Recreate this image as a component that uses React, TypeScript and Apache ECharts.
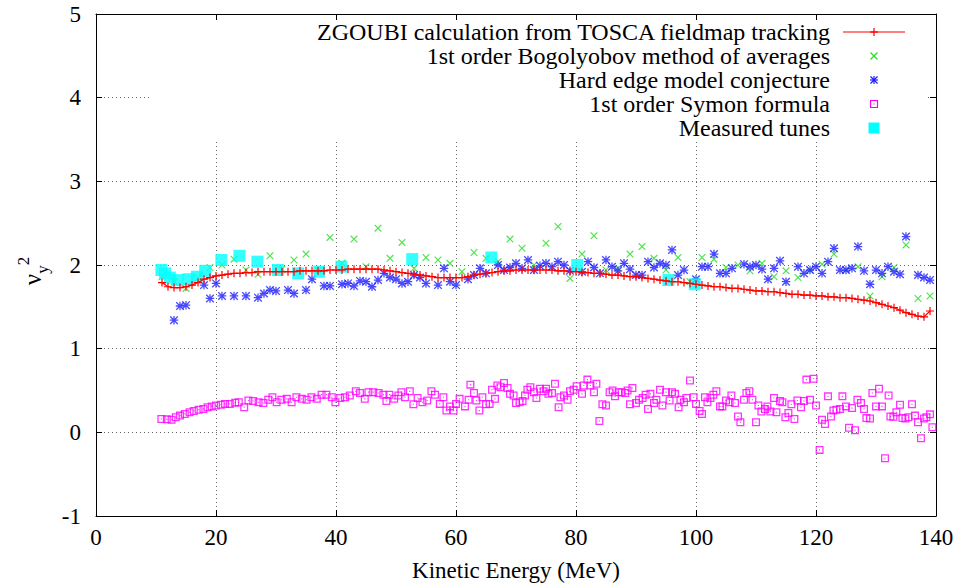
import React, { useEffect, useRef } from "react";
import * as echarts from "echarts";

const FONT = "Liberation Serif";

const xTicks = [0, 20, 40, 60, 80, 100, 120, 140];
const yTicks = [-1, 0, 1, 2, 3, 4, 5];

const legendNames = [
  "ZGOUBI calculation from TOSCA fieldmap tracking",
  "1st order Bogolyobov method of averages",
  "Hard edge model conjecture",
  "1st order Symon formula",
  "Measured tunes",
];

const zgoubiE = [
  11, 12, 13, 14, 15, 16, 17, 18, 19, 20, 21, 22, 23, 24, 25, 26, 27, 28, 29, 30,
  31, 32, 33, 34, 35, 36, 37, 38, 39, 40, 41, 42, 43, 44, 45, 46, 47, 48, 49, 50,
  51, 52, 53, 54, 55, 56, 57, 58, 59, 60, 61, 62, 63, 64, 65, 66, 67, 68, 69, 70,
  71, 72, 73, 74, 75, 76, 77, 78, 79, 80, 81, 82, 83, 84, 85, 86, 87, 88, 89, 90,
  91, 92, 93, 94, 95, 96, 97, 98, 99, 100, 101, 102, 103, 104, 105, 106, 107, 108, 109, 110,
  111, 112, 113, 114, 115, 116, 117, 118, 119, 120, 121, 122, 123, 124, 125, 126, 127, 128, 129, 130,
  131, 132, 133, 134, 135, 136, 137, 138, 139,
];
const zgoubiV = [
  1.79, 1.74, 1.73, 1.73, 1.74, 1.76, 1.79, 1.83, 1.85, 1.87, 1.88, 1.89, 1.90, 1.90, 1.91, 1.91, 1.92, 1.92, 1.92, 1.92,
  1.92, 1.92, 1.92, 1.93, 1.93, 1.93, 1.93, 1.93, 1.94, 1.94, 1.94, 1.95, 1.95, 1.95, 1.95, 1.95, 1.95, 1.94, 1.93, 1.92,
  1.91, 1.90, 1.89, 1.88, 1.87, 1.86, 1.85, 1.85, 1.85, 1.85, 1.85, 1.86, 1.88, 1.89, 1.90, 1.91, 1.92, 1.93, 1.93, 1.94,
  1.94, 1.94, 1.94, 1.94, 1.94, 1.94, 1.93, 1.93, 1.92, 1.92, 1.91, 1.91, 1.90, 1.90, 1.89, 1.88, 1.88, 1.87, 1.86, 1.86,
  1.85, 1.84, 1.83, 1.82, 1.81, 1.80, 1.80, 1.79, 1.78, 1.77, 1.76, 1.75, 1.74, 1.74, 1.73, 1.72, 1.72, 1.71, 1.70, 1.69,
  1.69, 1.68, 1.68, 1.67, 1.66, 1.65, 1.65, 1.64, 1.64, 1.63, 1.63, 1.62, 1.62, 1.61, 1.61, 1.60, 1.59, 1.58, 1.57, 1.55,
  1.53, 1.51, 1.49, 1.46, 1.43, 1.41, 1.39, 1.38, 1.45,
];

const bogoE = [
  11, 13, 15, 17, 19, 21, 23, 25, 27, 29, 31, 33, 35, 37, 39, 41, 43, 45, 47, 49,
  51, 53, 55, 57, 59, 61, 63, 65, 67, 69, 71, 73, 75, 77, 79, 81, 83, 85, 87, 89,
  91, 93, 95, 97, 99, 101, 103, 105, 107, 109, 111, 113, 115, 117, 119, 121, 123, 125, 127, 129,
  131, 133, 135, 137, 139,
];
const bogoV = [
  1.86, 1.80, 1.72, 1.85, 1.97, 2.00, 2.07, 1.94, 1.89, 2.11, 1.95, 2.06, 2.13, 1.93, 2.33, 2.02, 2.31, 1.98, 2.44, 2.08,
  2.27, 1.96, 2.09, 2.06, 2.02, 1.92, 2.15, 2.08, 2.04, 2.31, 2.20, 2.00, 2.26, 2.46, 1.84, 2.13, 2.35, 1.94, 1.96, 2.13,
  2.22, 2.08, 1.94, 2.09, 1.80, 2.09, 2.07, 1.97, 2.00, 1.93, 2.02, 1.86, 1.93, 1.85, 1.94, 2.01, 2.13, 1.94, 1.98, 1.63,
  1.86, 1.97, 2.24, 1.60, 1.63,
];

const hardE = [
  13, 14, 15, 18, 19, 20, 21, 23, 25, 27, 28, 29, 30, 32, 33, 35, 36, 38, 39, 41,
  42, 43, 44, 45, 46, 47, 48, 49, 50, 51, 52, 53, 54, 55, 57, 58, 59, 60, 62, 63,
  64, 65, 67, 68, 69, 70, 71, 72, 73, 74, 75, 76, 77, 78, 79, 81, 82, 83, 84, 85,
  86, 87, 88, 89, 90, 91, 92, 93, 94, 95, 96, 97, 98, 100, 101, 102, 103, 104, 105, 106,
  108, 109, 110, 111, 112, 113, 114, 115, 117, 118, 119, 120, 121, 122, 123, 124, 125, 126, 127, 128,
  129, 130, 131, 132, 133, 134, 135, 137, 138, 139,
];
const hardV = [
  1.34, 1.51, 1.52, 1.76, 1.60, 1.78, 1.63, 1.63, 1.63, 1.61, 1.66, 1.70, 1.69, 1.70, 1.66, 1.70, 1.83, 1.75, 1.75, 1.77,
  1.78, 1.75, 1.81, 1.80, 1.74, 1.82, 1.90, 1.85, 1.83, 1.78, 1.80, 1.88, 1.85, 1.78, 1.76, 1.96, 1.80, 1.76, 1.83, 1.88,
  1.96, 1.90, 2.00, 1.94, 1.97, 2.02, 1.96, 2.06, 1.94, 1.99, 2.02, 1.98, 2.04, 2.00, 1.93, 1.92, 2.04, 1.97, 1.90, 2.06,
  1.98, 1.93, 2.02, 1.95, 1.88, 1.88, 2.04, 1.97, 2.02, 2.00, 2.18, 1.88, 1.94, 1.83, 1.98, 1.98, 2.13, 1.90, 1.90, 1.96,
  2.01, 1.98, 2.00, 1.95, 1.83, 1.96, 2.05, 1.80, 1.98, 1.90, 1.94, 1.98, 1.90, 2.04, 2.20, 1.94, 1.94, 1.96, 2.22, 1.93,
  1.77, 1.94, 1.90, 1.98, 1.92, 1.89, 2.34, 1.88, 1.85, 1.82,
];

const symonE = [
  10.9, 11.8, 12.6, 13.3, 14.0, 14.8, 15.6, 16.3, 17.1, 17.9, 18.6, 19.3, 20.0, 20.8, 21.5, 22.3, 23.2, 23.8, 24.7, 25.4,
  26.2, 27.1, 27.9, 28.7, 29.4, 30.1, 30.9, 31.8, 32.6, 33.4, 34.3, 35.1, 35.9, 36.8, 37.6, 38.4, 39.3, 39.9, 40.7, 41.5,
  42.3, 43.3, 44.0, 44.8, 45.4, 46.2, 47.1, 47.9, 48.4, 48.9, 49.7, 50.4, 50.9, 51.5, 52.3, 52.9, 53.6, 54.4, 55.2, 55.9,
  56.5, 57.3, 57.9, 58.4, 59.0, 59.6, 60.0, 60.6, 61.5, 62.1, 62.4, 63.0, 63.4, 63.9, 64.4, 65.0, 65.6, 66.0, 66.5, 66.9,
  67.4, 68.0, 68.6, 69.0, 69.6, 70.0, 70.6, 71.1, 71.5, 71.9, 72.4, 73.0, 73.4, 74.0, 74.6, 75.0, 75.4, 76.0, 76.5, 77.1,
  77.4, 78.0, 78.6, 79.0, 79.6, 80.1, 81.0, 81.3, 81.9, 82.4, 83.0, 83.4, 83.9, 84.4, 85.0, 85.6, 86.1, 86.5, 87.1, 87.6,
  88.2, 88.6, 89.0, 89.4, 90.0, 90.5, 91.1, 91.6, 92.0, 92.4, 93.0, 93.4, 94.0, 94.4, 95.0, 95.6, 96.0, 96.5, 97.1, 97.4,
  98.0, 98.4, 99.0, 99.6, 100.0, 100.6, 101.0, 101.5, 101.9, 102.4, 102.9, 103.4, 104.0, 104.4, 105.0, 105.6, 105.9, 106.5, 107.0, 107.4,
  108.0, 108.4, 108.9, 109.4, 110.0, 110.4, 110.9, 111.5, 111.9, 112.4, 113.0, 113.4, 114.0, 114.4, 114.9, 115.4, 115.9, 116.4, 116.9, 117.5,
  118.0, 118.4, 119.0, 119.6, 120.0, 120.6, 121.0, 121.5, 122.0, 122.5, 122.9, 123.4, 124.0, 124.4, 125.0, 125.5, 126.0, 126.5, 126.9, 127.5,
  128.0, 128.4, 129.0, 129.4, 130.0, 130.5, 131.0, 131.5, 132.1, 132.4, 132.9, 133.4, 134.0, 134.4, 134.9, 135.4, 136.0, 136.5, 137.0, 137.5,
  138.0, 138.4, 139.0, 139.4,
];
const symonV = [
  0.16, 0.155, 0.15, 0.18, 0.20, 0.22, 0.24, 0.255, 0.27, 0.28, 0.30, 0.31, 0.32, 0.33, 0.34, 0.34, 0.355, 0.36, 0.30, 0.38,
  0.375, 0.36, 0.35, 0.39, 0.42, 0.36, 0.39, 0.40, 0.36, 0.42, 0.40, 0.39, 0.42, 0.40, 0.45, 0.45, 0.42, 0.36, 0.41, 0.42,
  0.44, 0.49, 0.47, 0.40, 0.48, 0.48, 0.47, 0.45, 0.375, 0.45, 0.40, 0.44, 0.48, 0.42, 0.49, 0.335, 0.41, 0.36, 0.38, 0.49,
  0.45, 0.34, 0.42, 0.26, 0.31, 0.26, 0.34, 0.40, 0.31, 0.39, 0.57, 0.47, 0.38, 0.26, 0.42, 0.335, 0.34, 0.51, 0.40, 0.56,
  0.54, 0.59, 0.53, 0.46, 0.44, 0.35, 0.36, 0.375, 0.44, 0.51, 0.54, 0.48, 0.41, 0.52, 0.49, 0.52, 0.46, 0.47, 0.58, 0.30,
  0.42, 0.44, 0.39, 0.49, 0.51, 0.55, 0.46, 0.56, 0.63, 0.56, 0.48, 0.58, 0.135, 0.335, 0.32, 0.48, 0.50, 0.43, 0.48, 0.48,
  0.47, 0.50, 0.335, 0.53, 0.35, 0.39, 0.41, 0.45, 0.28, 0.46, 0.35, 0.39, 0.51, 0.32, 0.48, 0.38, 0.48, 0.46, 0.30, 0.39,
  0.36, 0.41, 0.62, 0.42, 0.34, 0.255, 0.22, 0.42, 0.36, 0.41, 0.45, 0.49, 0.31, 0.31, 0.38, 0.36, 0.44, 0.35, 0.19, 0.12,
  0.39, 0.47, 0.49, 0.39, 0.12, 0.32, 0.25, 0.28, 0.31, 0.25, 0.41, 0.24, 0.375, 0.36, 0.18, 0.23, 0.335, 0.16, 0.38, 0.30,
  0.375, 0.63, 0.39, 0.64, 0.32, -0.21, 0.15, 0.10, 0.43, 0.19, 0.26, 0.27, 0.28, 0.43, 0.31, 0.055, 0.29, 0.025, 0.39, 0.35,
  0.28, 0.17, 0.165, 0.47, 0.31, 0.52, 0.31, -0.31, 0.44, 0.19, 0.185, 0.24, 0.33, 0.17, 0.165, 0.18, 0.335, 0.20, 0.12, -0.07,
  0.165, 0.18, 0.215, 0.06,
];

const measuredE = [10.9, 11.5, 12.3, 13.6, 15.4, 16.8, 18.2, 20.9, 23.9, 26.9, 30.3, 33.7, 37.2, 40.9, 52.7, 65.9, 80.2, 95.4, 99.8];
const measuredV = [1.94, 1.90, 1.85, 1.82, 1.83, 1.86, 1.93, 2.06, 2.11, 2.04, 1.94, 1.90, 1.92, 1.98, 2.07, 2.09, 2.00, 1.82, 1.77];

const COLORS = ["#ff0000", "#22dd22", "#1a1aff", "#ff00ff", "#00ffff"];

const PLUS = "M0,4.25H10V5.75H0Z M4.25,0H5.75V10H4.25Z";
const CROSS = "M0,1.1L1.1,0L10,8.9L8.9,10Z M8.9,0L10,1.1L1.1,10L0,8.9Z";
const STAR = PLUS + " " + CROSS;
const OSQ = "M0,0H10V10H0Z M1.6,1.6V8.4H8.4V1.6Z M4.3,4.3H5.7V5.7H4.3Z";

const zip = (a: number[], b: number[]) => a.map((x, i) => [x, b[i]]);

export default function App() {
  const ref = useRef<HTMLDivElement>(null);
  useEffect(() => {
    if (!ref.current) return;
    const chart = echarts.init(ref.current, undefined, { renderer: "svg" });

    const lx = 874;
    const rowY = [32, 56, 80, 104, 128];
    const textRight = 830;
    const legendGraphics: any[] = [
      { type: "rect", z: 1, shape: { x: 150, y: 20, width: 778, height: 120 }, style: { fill: "#fff" } },
    ];
    legendNames.forEach((n, i) => {
      legendGraphics.push({
        type: "text", z: 10, x: textRight, y: rowY[i],
        style: {
          text: n, fill: "#000", fontFamily: FONT, fontSize: 24, lineHeight: 20,
          align: "right", verticalAlign: "middle",
        },
      });
    });
    const ln = (x1: number, y1: number, x2: number, y2: number, c: string, w = 1.2) => ({
      type: "line", z: 10, shape: { x1, y1, x2, y2 }, style: { stroke: c, lineWidth: w },
    });
    legendGraphics.push(ln(843, rowY[0], 905, rowY[0], COLORS[0], 1.2));
    legendGraphics.push(ln(lx - 4, rowY[0], lx + 4, rowY[0], COLORS[0]));
    legendGraphics.push(ln(lx, rowY[0] - 4, lx, rowY[0] + 4, COLORS[0]));
    legendGraphics.push(ln(lx - 3.5, rowY[1] - 3.5, lx + 3.5, rowY[1] + 3.5, COLORS[1]));
    legendGraphics.push(ln(lx - 3.5, rowY[1] + 3.5, lx + 3.5, rowY[1] - 3.5, COLORS[1]));
    legendGraphics.push(ln(lx - 3.5, rowY[2] - 3.5, lx + 3.5, rowY[2] + 3.5, COLORS[2]));
    legendGraphics.push(ln(lx - 3.5, rowY[2] + 3.5, lx + 3.5, rowY[2] - 3.5, COLORS[2]));
    legendGraphics.push(ln(lx - 4, rowY[2], lx + 4, rowY[2], COLORS[2]));
    legendGraphics.push(ln(lx, rowY[2] - 4, lx, rowY[2] + 4, COLORS[2]));
    legendGraphics.push({
      type: "rect", z: 10, shape: { x: lx - 3.5, y: rowY[3] - 3.5, width: 7, height: 7 },
      style: { fill: "none", stroke: COLORS[3], lineWidth: 1.2 },
    });
    legendGraphics.push({
      type: "rect", z: 10, shape: { x: lx - 0.6, y: rowY[3] - 0.6, width: 1.2, height: 1.2 },
      style: { fill: COLORS[3] },
    });
    legendGraphics.push({
      type: "rect", z: 10, shape: { x: lx - 5.5, y: rowY[4] - 5.5, width: 11, height: 11 },
      style: { fill: COLORS[4] },
    });

    const axisCommonX = {
      type: "value", min: xTicks[0], max: xTicks[xTicks.length - 1], interval: 20,
      axisLine: { show: true, onZero: false, lineStyle: { color: "#000", width: 1 } },
      axisTick: { show: true, inside: true, length: 6, lineStyle: { color: "#000" } },
    };
    const axisCommonY = {
      type: "value", min: yTicks[0], max: yTicks[yTicks.length - 1], interval: 1,
      axisLine: { show: true, onZero: false, lineStyle: { color: "#000", width: 1 } },
      axisTick: { show: true, inside: true, length: 6, lineStyle: { color: "#000" } },
    };

    chart.setOption({
      animation: false,
      backgroundColor: "#fff",
      grid: { left: 96, right: 20, top: 14, bottom: 70, containLabel: false, outerBoundsMode: "none" },
      xAxis: [
        {
          ...axisCommonX, position: "bottom",
          name: "Kinetic Energy (MeV)", nameLocation: "middle", nameGap: 43,
          nameTextStyle: { fontFamily: FONT, fontSize: 23, color: "#000" },
          axisLabel: { fontFamily: FONT, fontSize: 23, color: "#000", margin: 10 },
          splitLine: { show: true, lineStyle: { color: "#666", type: [1, 3], width: 1 } },
        },
        { ...axisCommonX, position: "top", axisLabel: { show: false }, splitLine: { show: false } },
      ],
      yAxis: [
        {
          ...axisCommonY, position: "left",
          name: "{a|ν}{b|y}{c|2}", nameLocation: "middle", nameGap: 40, nameRotate: 90,
          nameTextStyle: {
            color: "#000", fontFamily: FONT, fontSize: 25, padding: [0, 12, 0, 0],
            rich: {
              a: { fontFamily: FONT, fontSize: 25, color: "#000", verticalAlign: "middle", lineHeight: 36 },
              b: { fontFamily: FONT, fontSize: 17, color: "#000", verticalAlign: "bottom", lineHeight: 36 },
              c: { fontFamily: FONT, fontSize: 17, color: "#000", verticalAlign: "top", lineHeight: 36 },
            },
          },
          axisLabel: { fontFamily: FONT, fontSize: 23, color: "#000", margin: 15 },
          splitLine: { show: true, lineStyle: { color: "#666", type: [1, 3], width: 1 } },
        },
        { ...axisCommonY, position: "right", axisLabel: { show: false }, splitLine: { show: false } },
      ],
      graphic: legendGraphics,
      series: [
        {
          name: legendNames[0], type: "line", data: zip(zgoubiE, zgoubiV),
          symbol: "path://" + PLUS, symbolSize: 8, showSymbol: true,
          lineStyle: { color: COLORS[0], width: 1.2 },
          itemStyle: { color: COLORS[0] },
        },
        {
          name: legendNames[1], type: "scatter", data: zip(bogoE, bogoV),
          symbol: "path://" + CROSS, symbolSize: 7.5, itemStyle: { color: COLORS[1] },
        },
        {
          name: legendNames[2], type: "scatter", data: zip(hardE, hardV),
          symbol: "path://" + STAR, symbolSize: 8.5, itemStyle: { color: COLORS[2] },
        },
        {
          name: legendNames[3], type: "scatter", data: zip(symonE, symonV),
          symbol: "path://" + OSQ, symbolSize: 8, itemStyle: { color: COLORS[3] },
        },
        {
          name: legendNames[4], type: "scatter", data: zip(measuredE, measuredV),
          symbol: "rect", symbolSize: 12, itemStyle: { color: COLORS[4] },
        },
      ],
    });
    return () => chart.dispose();
  }, []);
  return <div ref={ref} style={{ width: 956, height: 586, position: "absolute", left: 0, top: 0 }} />;
}
